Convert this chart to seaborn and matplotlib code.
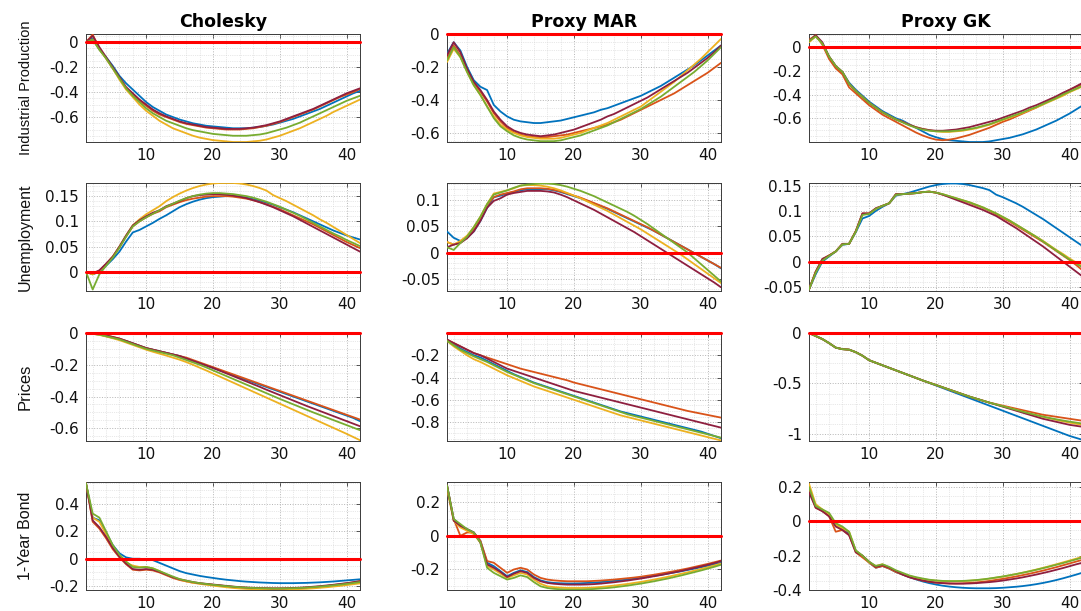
import matplotlib
matplotlib.use("Agg")
import matplotlib.pyplot as plt
import seaborn as sns
import pandas as pd
from matplotlib.ticker import MultipleLocator, AutoMinorLocator

# ---------------- data ----------------
horizon = list(range(1, 43))
series_order = ["blue", "orange", "yellow", "maroon", "green"]
series_colors = ["#0072BD", "#D95319", "#EDB120", "#8E1F3F", "#77AC30"]
col_titles = ["Cholesky", "Proxy MAR", "Proxy GK"]
row_labels = ["Industrial Production", "Unemployment", "Prices", "1-Year Bond"]
x_ticks = [10, 20, 30, 40]

# Industrial Production - Cholesky
ip_chol_blue = [0.00, 0.03, -0.06, -0.12, -0.19, -0.27, -0.33, -0.38, -0.43, -0.48, -0.52, -0.55, -0.58, -0.60,
                -0.62, -0.635, -0.65, -0.66, -0.67, -0.675, -0.68, -0.685, -0.69, -0.69, -0.69, -0.685, -0.68, -0.67,
                -0.66, -0.645, -0.63, -0.615, -0.595, -0.575, -0.555, -0.535, -0.51, -0.485, -0.46, -0.435, -0.41, -0.39]
ip_chol_orange = [0.00, 0.06, -0.05, -0.13, -0.21, -0.29, -0.37, -0.42, -0.47, -0.51, -0.55, -0.58, -0.60, -0.62,
                  -0.64, -0.655, -0.665, -0.675, -0.685, -0.69, -0.695, -0.70, -0.70, -0.70, -0.695, -0.69, -0.68, -0.67,
                  -0.655, -0.64, -0.62, -0.60, -0.58, -0.56, -0.54, -0.515, -0.49, -0.465, -0.44, -0.42, -0.40, -0.375]
ip_chol_yellow = [0.00, 0.02, -0.06, -0.13, -0.21, -0.30, -0.38, -0.44, -0.50, -0.55, -0.59, -0.63, -0.66, -0.69,
                  -0.71, -0.73, -0.75, -0.765, -0.775, -0.785, -0.79, -0.795, -0.80, -0.80, -0.80, -0.795, -0.79, -0.78,
                  -0.765, -0.75, -0.73, -0.71, -0.69, -0.665, -0.64, -0.615, -0.59, -0.56, -0.535, -0.51, -0.485, -0.46]
ip_chol_maroon = [0.00, 0.05, -0.04, -0.12, -0.20, -0.28, -0.36, -0.41, -0.46, -0.50, -0.54, -0.57, -0.595, -0.615,
                  -0.635, -0.65, -0.66, -0.67, -0.68, -0.685, -0.69, -0.695, -0.695, -0.695, -0.69, -0.685, -0.675, -0.665,
                  -0.65, -0.635, -0.615, -0.595, -0.575, -0.555, -0.535, -0.51, -0.485, -0.46, -0.435, -0.41, -0.39, -0.37]
ip_chol_green = [0.00, 0.02, -0.06, -0.13, -0.21, -0.29, -0.37, -0.43, -0.48, -0.53, -0.57, -0.60, -0.63, -0.65,
                 -0.67, -0.69, -0.705, -0.715, -0.725, -0.735, -0.74, -0.745, -0.75, -0.75, -0.75, -0.745, -0.74, -0.73,
                 -0.715, -0.70, -0.685, -0.665, -0.645, -0.62, -0.595, -0.57, -0.545, -0.52, -0.495, -0.47, -0.45, -0.43]

# Industrial Production - Proxy MAR
ip_mar_blue = [-0.12, -0.05, -0.10, -0.20, -0.28, -0.32, -0.34, -0.43, -0.47, -0.50, -0.52, -0.53, -0.535, -0.54,
               -0.54, -0.535, -0.53, -0.525, -0.515, -0.505, -0.495, -0.485, -0.475, -0.46, -0.45, -0.435, -0.42, -0.405,
               -0.39, -0.375, -0.355, -0.335, -0.315, -0.29, -0.265, -0.24, -0.215, -0.19, -0.16, -0.13, -0.10, -0.07]
ip_mar_orange = [-0.15, -0.07, -0.13, -0.22, -0.30, -0.35, -0.41, -0.48, -0.53, -0.57, -0.595, -0.61, -0.62, -0.625,
                 -0.625, -0.625, -0.62, -0.615, -0.61, -0.60, -0.59, -0.58, -0.57, -0.56, -0.55, -0.535, -0.52, -0.50,
                 -0.48, -0.46, -0.44, -0.42, -0.40, -0.38, -0.36, -0.335, -0.31, -0.285, -0.26, -0.235, -0.205, -0.175]
ip_mar_yellow = [-0.17, -0.09, -0.14, -0.23, -0.31, -0.37, -0.44, -0.50, -0.55, -0.58, -0.60, -0.615, -0.625, -0.63,
                 -0.635, -0.635, -0.635, -0.63, -0.62, -0.61, -0.60, -0.585, -0.57, -0.555, -0.54, -0.52, -0.50, -0.48,
                 -0.46, -0.44, -0.41, -0.38, -0.35, -0.32, -0.29, -0.255, -0.22, -0.185, -0.15, -0.11, -0.07, -0.03]
ip_mar_maroon = [-0.13, -0.05, -0.11, -0.21, -0.29, -0.34, -0.40, -0.47, -0.52, -0.56, -0.585, -0.60, -0.61, -0.615,
                 -0.62, -0.615, -0.61, -0.60, -0.59, -0.58, -0.565, -0.55, -0.535, -0.52, -0.50, -0.485, -0.465, -0.445,
                 -0.425, -0.405, -0.385, -0.36, -0.335, -0.31, -0.285, -0.26, -0.235, -0.205, -0.175, -0.145, -0.11, -0.07]
ip_mar_green = [-0.16, -0.08, -0.14, -0.23, -0.31, -0.37, -0.44, -0.51, -0.56, -0.59, -0.615, -0.63, -0.64, -0.645,
                -0.65, -0.65, -0.65, -0.645, -0.635, -0.625, -0.615, -0.60, -0.585, -0.57, -0.555, -0.535, -0.515, -0.495,
                -0.475, -0.455, -0.43, -0.405, -0.38, -0.35, -0.32, -0.29, -0.26, -0.23, -0.195, -0.16, -0.12, -0.08]

# Industrial Production - Proxy GK
ip_gk_blue = [0.05, 0.09, 0.03, -0.08, -0.16, -0.21, -0.30, -0.36, -0.41, -0.46, -0.50, -0.54, -0.57, -0.60,
              -0.62, -0.65, -0.68, -0.71, -0.74, -0.76, -0.775, -0.785, -0.79, -0.795, -0.80, -0.80, -0.80, -0.795,
              -0.785, -0.775, -0.765, -0.75, -0.735, -0.715, -0.695, -0.67, -0.645, -0.62, -0.59, -0.56, -0.525, -0.49]
ip_gk_orange = [0.06, 0.10, 0.02, -0.10, -0.18, -0.23, -0.34, -0.39, -0.44, -0.49, -0.53, -0.57, -0.60, -0.63,
                -0.66, -0.69, -0.72, -0.745, -0.765, -0.78, -0.785, -0.78, -0.77, -0.755, -0.74, -0.72, -0.70, -0.68,
                -0.655, -0.63, -0.61, -0.585, -0.56, -0.535, -0.51, -0.48, -0.45, -0.42, -0.39, -0.36, -0.335, -0.31]
ip_gk_yellow = [0.04, 0.09, 0.03, -0.08, -0.16, -0.21, -0.31, -0.37, -0.42, -0.47, -0.51, -0.55, -0.58, -0.61,
                -0.63, -0.655, -0.675, -0.69, -0.70, -0.71, -0.715, -0.715, -0.71, -0.705, -0.695, -0.685, -0.67, -0.655,
                -0.635, -0.615, -0.595, -0.575, -0.555, -0.53, -0.51, -0.485, -0.46, -0.435, -0.41, -0.38, -0.355, -0.33]
ip_gk_maroon = [0.05, 0.10, 0.04, -0.08, -0.16, -0.21, -0.31, -0.37, -0.42, -0.47, -0.51, -0.55, -0.58, -0.61,
                -0.63, -0.655, -0.675, -0.69, -0.70, -0.705, -0.705, -0.70, -0.695, -0.685, -0.675, -0.66, -0.645, -0.63,
                -0.615, -0.595, -0.575, -0.555, -0.535, -0.51, -0.49, -0.465, -0.44, -0.415, -0.385, -0.36, -0.33, -0.30]
ip_gk_green = [0.05, 0.09, 0.03, -0.08, -0.16, -0.21, -0.31, -0.37, -0.42, -0.47, -0.51, -0.55, -0.58, -0.61,
               -0.635, -0.66, -0.68, -0.695, -0.705, -0.71, -0.71, -0.71, -0.705, -0.70, -0.69, -0.68, -0.665, -0.65,
               -0.63, -0.61, -0.59, -0.57, -0.55, -0.525, -0.505, -0.48, -0.455, -0.43, -0.40, -0.375, -0.35, -0.325]

# Unemployment - Cholesky
u_chol_blue = [0.0, -0.005, 0.0, 0.012, 0.025, 0.04, 0.06, 0.078, 0.083, 0.09, 0.097, 0.105, 0.112, 0.12,
               0.128, 0.134, 0.139, 0.143, 0.146, 0.148, 0.149, 0.15, 0.15, 0.149, 0.147, 0.144, 0.141, 0.137,
               0.133, 0.128, 0.123, 0.118, 0.112, 0.106, 0.10, 0.094, 0.088, 0.082, 0.077, 0.072, 0.068, 0.064]
u_chol_orange = [0.0, -0.005, 0.002, 0.015, 0.03, 0.048, 0.07, 0.09, 0.10, 0.108, 0.115, 0.12, 0.128, 0.133,
                 0.138, 0.142, 0.145, 0.147, 0.149, 0.15, 0.15, 0.15, 0.149, 0.147, 0.145, 0.142, 0.138, 0.134,
                 0.129, 0.124, 0.118, 0.112, 0.106, 0.10, 0.094, 0.087, 0.08, 0.073, 0.066, 0.059, 0.053, 0.047]
u_chol_yellow = [0.0, -0.005, 0.002, 0.015, 0.03, 0.05, 0.072, 0.092, 0.104, 0.114, 0.122, 0.13, 0.14, 0.148,
                 0.155, 0.161, 0.166, 0.17, 0.173, 0.175, 0.176, 0.176, 0.176, 0.175, 0.173, 0.17, 0.166, 0.161,
                 0.152, 0.146, 0.14, 0.133, 0.126, 0.119, 0.112, 0.104, 0.097, 0.089, 0.081, 0.073, 0.065, 0.057]
u_chol_maroon = [0.0, -0.003, 0.003, 0.016, 0.03, 0.05, 0.072, 0.092, 0.102, 0.11, 0.117, 0.122, 0.13, 0.135,
                 0.14, 0.146, 0.15, 0.152, 0.153, 0.154, 0.154, 0.153, 0.151, 0.149, 0.146, 0.142, 0.138, 0.133,
                 0.128, 0.122, 0.116, 0.11, 0.103, 0.096, 0.089, 0.082, 0.075, 0.068, 0.061, 0.054, 0.047, 0.04]
u_chol_green = [0.0, -0.035, -0.005, 0.012, 0.028, 0.048, 0.07, 0.09, 0.10, 0.108, 0.115, 0.122, 0.129, 0.135,
                0.141, 0.146, 0.15, 0.153, 0.155, 0.156, 0.156, 0.155, 0.154, 0.152, 0.15, 0.147, 0.143, 0.139,
                0.134, 0.129, 0.123, 0.117, 0.111, 0.104, 0.097, 0.09, 0.083, 0.076, 0.07, 0.063, 0.057, 0.051]

# Unemployment - Proxy MAR
u_mar_blue = [0.04, 0.028, 0.022, 0.028, 0.04, 0.06, 0.085, 0.105, 0.108, 0.112, 0.115, 0.118, 0.12, 0.12,
              0.12, 0.12, 0.118, 0.115, 0.111, 0.107, 0.103, 0.098, 0.093, 0.088, 0.083, 0.077, 0.071, 0.065,
              0.059, 0.053, 0.047, 0.041, 0.034, 0.027, 0.02, 0.013, 0.006, -0.001, -0.008, -0.015, -0.022, -0.03]
u_mar_orange = [0.02, 0.015, 0.02, 0.03, 0.045, 0.065, 0.09, 0.105, 0.11, 0.113, 0.116, 0.12, 0.122, 0.122,
                0.122, 0.121, 0.119, 0.116, 0.112, 0.108, 0.104, 0.099, 0.094, 0.089, 0.084, 0.078, 0.072, 0.066,
                0.06, 0.054, 0.048, 0.041, 0.034, 0.027, 0.02, 0.013, 0.006, -0.001, -0.008, -0.015, -0.022, -0.029]
u_mar_yellow = [0.02, 0.015, 0.022, 0.032, 0.048, 0.068, 0.092, 0.112, 0.115, 0.118, 0.122, 0.127, 0.128, 0.128,
                0.127, 0.125, 0.122, 0.118, 0.113, 0.108, 0.103, 0.097, 0.091, 0.085, 0.079, 0.072, 0.065, 0.058,
                0.051, 0.044, 0.036, 0.028, 0.02, 0.012, 0.004, -0.004, -0.013, -0.022, -0.031, -0.04, -0.049, -0.058]
u_mar_maroon = [0.01, 0.015, 0.018, 0.027, 0.04, 0.06, 0.085, 0.098, 0.103, 0.11, 0.113, 0.115, 0.117, 0.117,
                0.117, 0.116, 0.114, 0.11, 0.105, 0.099, 0.093, 0.087, 0.081, 0.074, 0.067, 0.06, 0.053, 0.046,
                0.039, 0.031, 0.023, 0.015, 0.007, -0.001, -0.009, -0.017, -0.025, -0.033, -0.041, -0.049, -0.057, -0.066]
u_mar_green = [0.01, 0.005, 0.018, 0.03, 0.048, 0.068, 0.092, 0.11, 0.114, 0.118, 0.123, 0.127, 0.129, 0.13,
               0.131, 0.131, 0.13, 0.128, 0.125, 0.121, 0.117, 0.112, 0.107, 0.101, 0.095, 0.089, 0.083, 0.077,
               0.07, 0.062, 0.054, 0.045, 0.036, 0.027, 0.018, 0.009, 0.0, -0.011, -0.022, -0.033, -0.044, -0.055]

# Unemployment - Proxy GK
u_gk_blue = [-0.055, -0.025, 0.0, 0.01, 0.02, 0.033, 0.035, 0.058, 0.085, 0.09, 0.10, 0.108, 0.115, 0.13,
             0.133, 0.136, 0.14, 0.144, 0.148, 0.151, 0.153, 0.154, 0.154, 0.153, 0.151, 0.148, 0.145, 0.141,
             0.132, 0.127, 0.121, 0.115, 0.108, 0.10, 0.092, 0.084, 0.075, 0.066, 0.057, 0.048, 0.039, 0.03]
u_gk_orange = [-0.055, -0.02, 0.005, 0.012, 0.02, 0.035, 0.035, 0.06, 0.095, 0.095, 0.105, 0.11, 0.115, 0.133,
               0.133, 0.134, 0.135, 0.137, 0.138, 0.136, 0.132, 0.128, 0.124, 0.12, 0.116, 0.111, 0.106, 0.10,
               0.093, 0.086, 0.079, 0.071, 0.063, 0.055, 0.047, 0.039, 0.03, 0.021, 0.012, 0.003, -0.007, -0.018]
u_gk_yellow = [-0.055, -0.02, 0.003, 0.012, 0.02, 0.034, 0.035, 0.06, 0.093, 0.095, 0.104, 0.11, 0.115, 0.132,
               0.133, 0.134, 0.135, 0.137, 0.138, 0.136, 0.133, 0.129, 0.125, 0.121, 0.117, 0.112, 0.107, 0.101,
               0.095, 0.088, 0.081, 0.073, 0.065, 0.057, 0.049, 0.041, 0.032, 0.023, 0.015, 0.006, -0.002, -0.01]
u_gk_maroon = [-0.055, -0.02, 0.005, 0.012, 0.02, 0.035, 0.035, 0.06, 0.095, 0.095, 0.105, 0.11, 0.115, 0.133,
               0.133, 0.134, 0.135, 0.137, 0.138, 0.136, 0.132, 0.127, 0.122, 0.117, 0.112, 0.107, 0.102, 0.096,
               0.09, 0.082, 0.074, 0.066, 0.057, 0.048, 0.039, 0.03, 0.02, 0.01, 0.0, -0.01, -0.02, -0.03]
u_gk_green = [-0.055, -0.022, 0.002, 0.011, 0.02, 0.034, 0.035, 0.059, 0.092, 0.094, 0.104, 0.11, 0.115, 0.132,
              0.133, 0.134, 0.135, 0.137, 0.138, 0.136, 0.133, 0.129, 0.125, 0.121, 0.117, 0.112, 0.107, 0.101,
              0.095, 0.088, 0.081, 0.073, 0.065, 0.057, 0.049, 0.04, 0.031, 0.022, 0.013, 0.004, -0.004, -0.012]

# Prices - Cholesky
p_chol_blue = [0.0, -0.005, -0.01, -0.02, -0.03, -0.04, -0.05, -0.065, -0.08, -0.095, -0.105, -0.115, -0.125, -0.135,
               -0.145, -0.16, -0.175, -0.19, -0.205, -0.22, -0.235, -0.25, -0.265, -0.28, -0.295, -0.31, -0.325, -0.34,
               -0.355, -0.37, -0.385, -0.40, -0.415, -0.43, -0.445, -0.46, -0.475, -0.49, -0.505, -0.52, -0.535, -0.555]
p_chol_orange = [0.0, 0.0, -0.005, -0.015, -0.025, -0.035, -0.05, -0.065, -0.08, -0.095, -0.105, -0.115, -0.125, -0.135,
                 -0.145, -0.155, -0.17, -0.185, -0.20, -0.215, -0.23, -0.245, -0.26, -0.275, -0.29, -0.305, -0.32, -0.335,
                 -0.35, -0.365, -0.38, -0.395, -0.41, -0.425, -0.44, -0.455, -0.47, -0.485, -0.50, -0.515, -0.53, -0.545]
p_chol_yellow = [0.0, -0.005, -0.012, -0.022, -0.033, -0.045, -0.06, -0.075, -0.09, -0.105, -0.118, -0.13, -0.142, -0.155,
                 -0.168, -0.183, -0.20, -0.218, -0.236, -0.255, -0.274, -0.293, -0.312, -0.331, -0.35, -0.369, -0.388, -0.407,
                 -0.426, -0.445, -0.464, -0.483, -0.502, -0.521, -0.54, -0.559, -0.578, -0.597, -0.616, -0.635, -0.655, -0.675]
p_chol_maroon = [0.0, 0.0, -0.005, -0.015, -0.025, -0.035, -0.05, -0.065, -0.08, -0.095, -0.105, -0.115, -0.125, -0.135,
                 -0.145, -0.16, -0.175, -0.19, -0.205, -0.22, -0.237, -0.254, -0.271, -0.288, -0.305, -0.322, -0.339, -0.357,
                 -0.374, -0.391, -0.408, -0.425, -0.442, -0.459, -0.475, -0.491, -0.507, -0.523, -0.539, -0.555, -0.571, -0.587]
p_chol_green = [0.0, -0.005, -0.01, -0.02, -0.03, -0.04, -0.055, -0.07, -0.085, -0.10, -0.11, -0.12, -0.13, -0.14,
                -0.155, -0.17, -0.185, -0.20, -0.217, -0.235, -0.253, -0.271, -0.289, -0.307, -0.325, -0.343, -0.361, -0.379,
                -0.397, -0.415, -0.432, -0.449, -0.466, -0.483, -0.50, -0.516, -0.532, -0.548, -0.564, -0.58, -0.596, -0.612]

# Prices - Proxy MAR
p_mar_blue = [-0.06, -0.10, -0.14, -0.17, -0.20, -0.22, -0.25, -0.28, -0.31, -0.34, -0.37, -0.395, -0.42, -0.445,
              -0.465, -0.485, -0.505, -0.525, -0.545, -0.565, -0.585, -0.605, -0.625, -0.645, -0.665, -0.685, -0.705, -0.72,
              -0.735, -0.75, -0.765, -0.78, -0.795, -0.81, -0.825, -0.84, -0.855, -0.87, -0.885, -0.905, -0.925, -0.945]
p_mar_orange = [-0.06, -0.09, -0.12, -0.15, -0.18, -0.20, -0.22, -0.24, -0.26, -0.28, -0.30, -0.32, -0.335, -0.35,
                -0.365, -0.38, -0.395, -0.41, -0.425, -0.445, -0.46, -0.475, -0.49, -0.505, -0.52, -0.535, -0.55, -0.565,
                -0.58, -0.595, -0.61, -0.625, -0.64, -0.655, -0.67, -0.685, -0.70, -0.712, -0.724, -0.736, -0.748, -0.76]
p_mar_yellow = [-0.07, -0.12, -0.16, -0.20, -0.235, -0.26, -0.29, -0.32, -0.35, -0.38, -0.405, -0.43, -0.455, -0.48,
                -0.50, -0.52, -0.54, -0.56, -0.58, -0.60, -0.62, -0.64, -0.66, -0.68, -0.70, -0.72, -0.74, -0.755,
                -0.77, -0.785, -0.80, -0.815, -0.83, -0.845, -0.86, -0.875, -0.89, -0.905, -0.92, -0.935, -0.95, -0.965]
p_mar_maroon = [-0.06, -0.09, -0.12, -0.15, -0.18, -0.20, -0.23, -0.26, -0.29, -0.32, -0.34, -0.36, -0.38, -0.40,
                -0.42, -0.44, -0.46, -0.48, -0.50, -0.52, -0.535, -0.55, -0.565, -0.58, -0.595, -0.61, -0.625, -0.64,
                -0.655, -0.67, -0.685, -0.70, -0.715, -0.73, -0.745, -0.76, -0.775, -0.79, -0.805, -0.82, -0.835, -0.85]
p_mar_green = [-0.07, -0.11, -0.15, -0.18, -0.21, -0.235, -0.26, -0.29, -0.32, -0.35, -0.375, -0.40, -0.425, -0.45,
               -0.47, -0.49, -0.51, -0.53, -0.55, -0.57, -0.59, -0.61, -0.63, -0.65, -0.67, -0.69, -0.71, -0.73,
               -0.745, -0.76, -0.775, -0.79, -0.805, -0.82, -0.835, -0.85, -0.865, -0.88, -0.895, -0.91, -0.925, -0.94]

# Prices - Proxy GK
p_gk_blue = [0.0, -0.03, -0.06, -0.10, -0.145, -0.16, -0.165, -0.19, -0.225, -0.27, -0.295, -0.32, -0.345, -0.37,
             -0.395, -0.42, -0.445, -0.47, -0.495, -0.52, -0.545, -0.57, -0.595, -0.62, -0.645, -0.67, -0.695, -0.72,
             -0.745, -0.77, -0.795, -0.82, -0.845, -0.87, -0.895, -0.92, -0.945, -0.97, -0.995, -1.02, -1.04, -1.06]
p_gk_orange = [0.0, -0.03, -0.06, -0.10, -0.145, -0.16, -0.165, -0.19, -0.225, -0.27, -0.295, -0.32, -0.345, -0.37,
               -0.395, -0.42, -0.445, -0.47, -0.493, -0.515, -0.538, -0.561, -0.584, -0.607, -0.63, -0.65, -0.67, -0.69,
               -0.705, -0.72, -0.735, -0.75, -0.765, -0.78, -0.795, -0.81, -0.82, -0.83, -0.84, -0.85, -0.86, -0.87]
p_gk_yellow = [0.0, -0.03, -0.06, -0.10, -0.145, -0.16, -0.165, -0.19, -0.225, -0.27, -0.295, -0.32, -0.345, -0.37,
               -0.395, -0.42, -0.445, -0.47, -0.493, -0.515, -0.538, -0.561, -0.584, -0.607, -0.63, -0.65, -0.67, -0.69,
               -0.708, -0.726, -0.744, -0.762, -0.78, -0.798, -0.815, -0.831, -0.846, -0.861, -0.875, -0.888, -0.90, -0.912]
p_gk_maroon = [0.0, -0.03, -0.06, -0.10, -0.145, -0.16, -0.165, -0.19, -0.225, -0.27, -0.295, -0.32, -0.345, -0.37,
               -0.395, -0.42, -0.445, -0.47, -0.493, -0.515, -0.538, -0.561, -0.584, -0.607, -0.63, -0.65, -0.67, -0.69,
               -0.71, -0.73, -0.75, -0.77, -0.79, -0.81, -0.83, -0.85, -0.865, -0.88, -0.895, -0.91, -0.92, -0.93]
p_gk_green = [0.0, -0.03, -0.06, -0.10, -0.145, -0.16, -0.165, -0.19, -0.225, -0.27, -0.295, -0.32, -0.345, -0.37,
              -0.395, -0.42, -0.445, -0.47, -0.493, -0.515, -0.538, -0.561, -0.584, -0.607, -0.63, -0.65, -0.67, -0.69,
              -0.708, -0.726, -0.744, -0.762, -0.78, -0.797, -0.813, -0.828, -0.842, -0.855, -0.867, -0.878, -0.888, -0.898]

# 1-Year Bond - Cholesky
b_chol_blue = [0.55, 0.30, 0.28, 0.19, 0.10, 0.04, 0.01, 0.0, 0.0, -0.005, -0.01, -0.03, -0.05, -0.07,
               -0.09, -0.105, -0.115, -0.125, -0.133, -0.14, -0.147, -0.153, -0.158, -0.163, -0.167, -0.17, -0.173, -0.175,
               -0.177, -0.178, -0.178, -0.178, -0.177, -0.176, -0.174, -0.172, -0.169, -0.166, -0.162, -0.158, -0.154, -0.15]
b_chol_orange = [0.55, 0.27, 0.22, 0.15, 0.07, 0.01, -0.04, -0.08, -0.085, -0.08, -0.085, -0.10, -0.12, -0.14,
                 -0.155, -0.165, -0.175, -0.18, -0.185, -0.19, -0.195, -0.20, -0.205, -0.21, -0.212, -0.214, -0.216, -0.217,
                 -0.218, -0.218, -0.217, -0.216, -0.214, -0.211, -0.207, -0.203, -0.198, -0.192, -0.186, -0.18, -0.172, -0.165]
b_chol_yellow = [0.55, 0.30, 0.27, 0.18, 0.09, 0.02, -0.03, -0.05, -0.06, -0.06, -0.07, -0.09, -0.115, -0.135,
                 -0.152, -0.165, -0.175, -0.183, -0.19, -0.196, -0.202, -0.208, -0.213, -0.217, -0.22, -0.222, -0.223, -0.224,
                 -0.225, -0.225, -0.224, -0.223, -0.221, -0.219, -0.216, -0.212, -0.208, -0.203, -0.198, -0.192, -0.186, -0.18]
b_chol_maroon = [0.55, 0.28, 0.23, 0.16, 0.08, 0.015, -0.035, -0.075, -0.08, -0.075, -0.08, -0.095, -0.115, -0.135,
                 -0.15, -0.16, -0.17, -0.178, -0.183, -0.188, -0.193, -0.198, -0.203, -0.207, -0.21, -0.212, -0.214, -0.215,
                 -0.216, -0.216, -0.215, -0.213, -0.211, -0.208, -0.204, -0.20, -0.195, -0.19, -0.184, -0.178, -0.171, -0.163]
b_chol_green = [0.55, 0.33, 0.30, 0.20, 0.10, 0.03, -0.02, -0.06, -0.065, -0.06, -0.07, -0.09, -0.11, -0.13,
                -0.148, -0.16, -0.17, -0.178, -0.184, -0.19, -0.195, -0.20, -0.204, -0.208, -0.211, -0.213, -0.215, -0.216,
                -0.217, -0.217, -0.216, -0.215, -0.213, -0.21, -0.207, -0.203, -0.199, -0.194, -0.189, -0.183, -0.177, -0.17]

# 1-Year Bond - Proxy MAR
b_mar_blue = [0.30, 0.10, 0.06, 0.04, 0.02, -0.03, -0.16, -0.18, -0.21, -0.24, -0.22, -0.205, -0.215, -0.245,
              -0.265, -0.275, -0.28, -0.282, -0.283, -0.283, -0.282, -0.28, -0.278, -0.275, -0.272, -0.268, -0.264, -0.26,
              -0.255, -0.25, -0.244, -0.238, -0.232, -0.225, -0.218, -0.211, -0.203, -0.195, -0.187, -0.178, -0.169, -0.16]
b_mar_orange = [0.30, 0.10, 0.0, 0.02, 0.02, -0.03, -0.15, -0.16, -0.19, -0.22, -0.20, -0.19, -0.20, -0.23,
                -0.25, -0.26, -0.265, -0.268, -0.27, -0.27, -0.27, -0.27, -0.268, -0.266, -0.263, -0.26, -0.256, -0.252,
                -0.248, -0.243, -0.237, -0.231, -0.224, -0.217, -0.21, -0.202, -0.194, -0.185, -0.176, -0.167, -0.157, -0.147]
b_mar_yellow = [0.28, 0.09, 0.05, 0.03, 0.01, -0.04, -0.18, -0.20, -0.225, -0.25, -0.235, -0.22, -0.23, -0.26,
                -0.285, -0.30, -0.305, -0.308, -0.31, -0.31, -0.31, -0.309, -0.307, -0.304, -0.30, -0.296, -0.291, -0.286,
                -0.28, -0.274, -0.267, -0.26, -0.252, -0.244, -0.235, -0.226, -0.217, -0.207, -0.197, -0.187, -0.176, -0.165]
b_mar_maroon = [0.30, 0.09, 0.06, 0.04, 0.02, -0.04, -0.17, -0.19, -0.215, -0.245, -0.225, -0.21, -0.22, -0.25,
                -0.27, -0.28, -0.285, -0.288, -0.29, -0.29, -0.29, -0.289, -0.287, -0.284, -0.28, -0.276, -0.271, -0.266,
                -0.26, -0.254, -0.247, -0.24, -0.233, -0.225, -0.217, -0.209, -0.20, -0.191, -0.182, -0.172, -0.162, -0.15]
b_mar_green = [0.30, 0.10, 0.07, 0.04, 0.02, -0.04, -0.19, -0.22, -0.24, -0.26, -0.25, -0.235, -0.245, -0.275,
               -0.30, -0.31, -0.315, -0.318, -0.32, -0.32, -0.32, -0.318, -0.316, -0.313, -0.31, -0.306, -0.301, -0.296,
               -0.29, -0.284, -0.277, -0.27, -0.262, -0.254, -0.245, -0.236, -0.226, -0.216, -0.206, -0.195, -0.184, -0.172]

# 1-Year Bond - Proxy GK
b_gk_blue = [0.19, 0.09, 0.06, 0.04, -0.02, -0.04, -0.07, -0.17, -0.20, -0.24, -0.27, -0.26, -0.275, -0.295,
             -0.31, -0.325, -0.338, -0.35, -0.36, -0.368, -0.375, -0.38, -0.384, -0.387, -0.389, -0.39, -0.39, -0.39,
             -0.389, -0.387, -0.384, -0.381, -0.377, -0.372, -0.366, -0.359, -0.351, -0.342, -0.332, -0.321, -0.31, -0.298]
b_gk_orange = [0.19, 0.08, 0.06, 0.03, -0.06, -0.05, -0.08, -0.18, -0.21, -0.24, -0.27, -0.26, -0.275, -0.295,
               -0.31, -0.325, -0.336, -0.345, -0.352, -0.357, -0.36, -0.362, -0.362, -0.361, -0.359, -0.356, -0.352, -0.347,
               -0.341, -0.335, -0.328, -0.321, -0.313, -0.305, -0.296, -0.287, -0.277, -0.267, -0.256, -0.245, -0.234, -0.223]
b_gk_yellow = [0.22, 0.10, 0.07, 0.04, -0.02, -0.04, -0.06, -0.17, -0.20, -0.24, -0.26, -0.25, -0.27, -0.29,
               -0.305, -0.318, -0.328, -0.336, -0.342, -0.346, -0.348, -0.349, -0.349, -0.348, -0.346, -0.343, -0.339, -0.334,
               -0.328, -0.322, -0.315, -0.307, -0.299, -0.29, -0.281, -0.271, -0.261, -0.25, -0.239, -0.228, -0.217, -0.205]
b_gk_maroon = [0.17, 0.08, 0.06, 0.03, -0.03, -0.05, -0.08, -0.18, -0.20, -0.235, -0.265, -0.255, -0.27, -0.29,
               -0.31, -0.325, -0.336, -0.345, -0.352, -0.357, -0.36, -0.362, -0.363, -0.363, -0.362, -0.36, -0.357, -0.354,
               -0.35, -0.345, -0.339, -0.333, -0.326, -0.318, -0.31, -0.301, -0.292, -0.282, -0.272, -0.261, -0.25, -0.24]
b_gk_green = [0.20, 0.09, 0.07, 0.05, -0.01, -0.03, -0.06, -0.17, -0.20, -0.235, -0.26, -0.25, -0.265, -0.285,
              -0.30, -0.315, -0.325, -0.333, -0.34, -0.344, -0.347, -0.348, -0.348, -0.347, -0.345, -0.342, -0.338, -0.333,
              -0.327, -0.321, -0.314, -0.307, -0.299, -0.291, -0.282, -0.273, -0.263, -0.253, -0.243, -0.232, -0.221, -0.21]

# axis ranges and ticks per panel (rows x cols)
y_limits = [[(-0.80, 0.065), (-0.655, 0.0), (-0.80, 0.11)],
            [(-0.038, 0.176), (-0.073, 0.132), (-0.058, 0.155)],
            [(-0.68, 0.0), (-0.97, 0.0), (-1.07, 0.0)],
            [(-0.228, 0.56), (-0.322, 0.32), (-0.40, 0.23)]]
y_ticks = [[[-0.6, -0.4, -0.2, 0], [-0.6, -0.4, -0.2, 0], [-0.6, -0.4, -0.2, 0]],
           [[0, 0.05, 0.1, 0.15], [-0.05, 0, 0.05, 0.1], [-0.05, 0, 0.05, 0.1, 0.15]],
           [[-0.6, -0.4, -0.2, 0], [-0.8, -0.6, -0.4, -0.2], [-1, -0.5, 0]],
           [[-0.2, 0, 0.2, 0.4], [-0.2, 0, 0.2], [-0.4, -0.2, 0, 0.2]]]

panels = [
    [[ip_chol_blue, ip_chol_orange, ip_chol_yellow, ip_chol_maroon, ip_chol_green],
     [ip_mar_blue, ip_mar_orange, ip_mar_yellow, ip_mar_maroon, ip_mar_green],
     [ip_gk_blue, ip_gk_orange, ip_gk_yellow, ip_gk_maroon, ip_gk_green]],
    [[u_chol_blue, u_chol_orange, u_chol_yellow, u_chol_maroon, u_chol_green],
     [u_mar_blue, u_mar_orange, u_mar_yellow, u_mar_maroon, u_mar_green],
     [u_gk_blue, u_gk_orange, u_gk_yellow, u_gk_maroon, u_gk_green]],
    [[p_chol_blue, p_chol_orange, p_chol_yellow, p_chol_maroon, p_chol_green],
     [p_mar_blue, p_mar_orange, p_mar_yellow, p_mar_maroon, p_mar_green],
     [p_gk_blue, p_gk_orange, p_gk_yellow, p_gk_maroon, p_gk_green]],
    [[b_chol_blue, b_chol_orange, b_chol_yellow, b_chol_maroon, b_chol_green],
     [b_mar_blue, b_mar_orange, b_mar_yellow, b_mar_maroon, b_mar_green],
     [b_gk_blue, b_gk_orange, b_gk_yellow, b_gk_maroon, b_gk_green]],
]

# ---------------- style ----------------
sns.set_theme(style="white")
plt.rcParams["font.family"] = ["DejaVu Sans"]
plt.rcParams["axes.edgecolor"] = "#3a3a3a"
plt.rcParams["axes.linewidth"] = 0.7
plt.rcParams["text.color"] = "black"
plt.rcParams["axes.labelcolor"] = "black"

W, H = 1081, 611
fig = plt.figure(figsize=(W / 100, H / 100), dpi=100)

col_left = [86, 447, 809]
ax_w = 274
row_top = [34, 183, 333, 482]
ax_h = 108
ylabel_sizes = [10.5, 11.5, 12, 11.5]

for r in range(4):
    for c in range(3):
        left = col_left[c] / W
        bottom = 1 - (row_top[r] + ax_h) / H
        ax = fig.add_axes([left, bottom, ax_w / W, ax_h / H])
        frames = []
        for name, vals in zip(series_order, panels[r][c]):
            assert len(vals) == 42, (r, c, name, len(vals))
            frames.append(pd.DataFrame({"h": horizon, "value": vals, "series": name}))
        df = pd.concat(frames, ignore_index=True)
        sns.lineplot(data=df, x="h", y="value", hue="series", hue_order=series_order,
                     palette=series_colors, estimator=None, legend=False, ax=ax,
                     linewidth=1.3, zorder=3)
        ax.axhline(0, color="#FF0000", linewidth=2.2, zorder=5, clip_on=False)
        ax.set_xlim(1, 42)
        ax.set_ylim(*y_limits[r][c])
        ax.set_xticks(x_ticks)
        ax.set_xticklabels([str(t) for t in x_ticks])
        ax.set_yticks(y_ticks[r][c])
        ax.set_yticklabels(["%g" % t for t in y_ticks[r][c]])
        ax.xaxis.set_minor_locator(MultipleLocator(2))
        ax.yaxis.set_minor_locator(AutoMinorLocator())
        ax.grid(True, which="major", linestyle=":", color="#b4b4b4", linewidth=0.7)
        ax.grid(True, which="minor", linestyle=":", color="#d2d2d2", linewidth=0.5)
        ax.tick_params(axis="both", which="major", direction="in", length=3, width=0.6,
                       top=True, right=True, labelsize=11, colors="#3a3a3a",
                       labelcolor="#111111")
        ax.tick_params(axis="x", which="major", pad=4)
        ax.tick_params(axis="y", which="major", pad=5)
        ax.tick_params(which="minor", length=0)
        for sp in ax.spines.values():
            sp.set_visible(True)
        ax.set_xlabel("")
        ax.set_ylabel("")
        if r == 0:
            ax.set_title(col_titles[c], fontsize=12.5, fontweight="bold", pad=5, color="black")
        if c == 0:
            ax.set_ylabel(row_labels[r], fontsize=ylabel_sizes[r], color="#111111",
                          family=["Liberation Sans", "DejaVu Sans"])
            ax.yaxis.set_label_coords(-0.195, 0.5)

fig.savefig("out.png", dpi=100, facecolor="white")
